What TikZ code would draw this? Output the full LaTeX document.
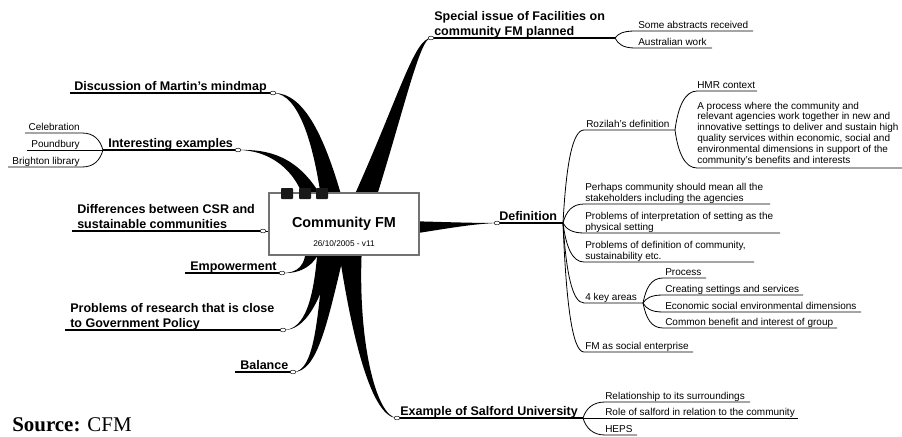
\documentclass[tikz,border=0pt]{standalone}
\usepackage{fontspec}
\setmainfont{Liberation Sans}
\newfontfamily\srcfont{Liberation Serif}
\usetikzlibrary{calc}
\tikzset{
  topic/.style={inner sep=0pt,anchor=base west,align=left,
    font=\fontsize{9.4}{11.25}\selectfont\bfseries},
  idea/.style={inner sep=0pt,anchor=base west,align=left,
    font=\fontsize{7.5}{8.1}\selectfont},
  lidea/.style={idea,anchor=base east},
  uline/.style={line width=1pt},
  sline/.style={line width=0.6pt},
  knob/.style={draw=black,fill=white,line width=0.35pt},
  sprout/.style={to path={.. controls ($(\tikztostart)!0.6!(\tikztostart|-\tikztotarget)+(#1*3,0)$)
    and ($(\tikztotarget)+(#1*-12,0)$) .. (\tikztotarget)}},
  sprout/.default=1
}
\begin{document}
\begin{tikzpicture}[x=0.75pt,y=-0.75pt]
  \useasboundingbox (0,0) rectangle (902,436);
  % knobs where the limbs end
  \coordinate (tD) at (273,93); \coordinate (tI) at (238,150); \coordinate (tS) at (431,38);
  \coordinate (tC) at (263,231); \coordinate (tE) at (282,273); \coordinate (tP) at (283,330);
  \coordinate (tB) at (293,372); \coordinate (tU) at (397,418); \coordinate (tF) at (497,223);
  % thick limbs
  \fill (tD) .. controls (300,93) and (315,150) .. (322,205) -- (344,205) .. controls (326,140) and (305,92) .. (tD) -- cycle;
  \fill (tI) .. controls (268,150) and (296,168) .. (306,205) -- (326,205) .. controls (302,158) and (272,149) .. (tI) -- cycle;
  \fill (tS) .. controls (414,38) and (398,100) .. (350,205) -- (374,205) .. controls (404,110) and (420,37) .. (tS) -- cycle;
  \fill (tF) .. controls (470,223) and (445,222) .. (405,221) -- (405,235) .. controls (445,229) and (470,224) .. (tF) -- cycle;
  \fill (tE) .. controls (298,273) and (306,266) .. (306,245) -- (322,245) .. controls (316,266) and (300,274) .. (tE) -- cycle;
  \fill (tP) .. controls (305,330) and (314,300) .. (318,245) -- (336,245) .. controls (322,300) and (306,331) .. (tP) -- cycle;
  \fill (tB) .. controls (316,372) and (318,310) .. (325,245) -- (346,245) .. controls (328,320) and (318,373) .. (tB) -- cycle;
  \fill (tU) .. controls (372,418) and (352,340) .. (338,245) -- (362,245) .. controls (357,340) and (376,417) .. (tU) -- cycle;
  % central topic
  \node[draw=black!55,line width=0.8pt,fill=white,minimum width=112.5pt,minimum height=46.5pt,inner sep=0pt] (hub) at (344,224) {};
  \foreach \sx in {281,299,316}
    \fill[black!90,rounded corners=0.6pt] (\sx,188) rectangle ++(12,11);
  \node[anchor=base,font=\fontsize{10.8}{13}\selectfont\bfseries] (ttl) at (344,227) {Community FM};
  \node[anchor=base,font=\fontsize{6.2}{7}\selectfont] (ver) at (344,246) {26/10/2005 - v11};

  % left side
  \coordinate (eD) at (70,93); \coordinate (fI) at (103,150);
  \coordinate (eCe) at (82,133); \coordinate (sCe) at (25,133); \coordinate (ePo) at (27,150);
  \coordinate (eBr) at (82,167); \coordinate (sBr) at (8,167);
  \coordinate (eC) at (72,231); \coordinate (eE) at (185,273);
  \coordinate (eP) at (65,330); \coordinate (eB) at (235,372);
  \node[topic] (nD) at (74,90) {Discussion of Martin's mindmap};
  \node[topic] (nI) at (108,147) {Interesting examples};
  \node[lidea] (nCe) at (80,130) {Celebration};
  \node[lidea] (nPo) at (80,147) {Poundbury};
  \node[lidea] (nBr) at (80,164) {Brighton library};
  \node[topic] (nC) at (77,228) {Differences between CSR and\\sustainable communities};
  \node[topic] (nE) at (190,270) {Empowerment};
  \node[topic] (nP) at (70,327) {Problems of research that is close\\to Government Policy};
  \node[topic] (nB) at (240,369) {Balance};
  \draw[uline] (eD) -- (tD);
  \draw[uline] (fI) -- (tI);
  \draw[sline] (fI) to[sprout=-1] (eCe) -- (sCe);
  \draw[sline] (fI) -- (ePo);
  \draw[sline] (fI) to[sprout=-1] (eBr) -- (sBr);
  \draw[uline] (eC) -- (tC);
  \draw[sline] (tC) -- (hub.west |- tC);
  \draw[uline] (eE) -- (tE);
  \draw[uline] (eP) -- (tP);
  \draw[uline] (eB) -- (tB);

  % special issue
  \coordinate (fS) at (615,38);
  \coordinate (sA1) at (635,31); \coordinate (eA1) at (753,31);
  \coordinate (sA2) at (635,48); \coordinate (eA2) at (712,48);
  \node[topic] (nS) at (434,35) {Special issue of Facilities on\\community FM planned};
  \node[idea] (nA1) at (638,28) {Some abstracts received};
  \node[idea] (nA2) at (638,45) {Australian work};
  \draw[uline] (tS) -- (fS);
  \draw[sline] (fS) to[sprout] (sA1) -- (eA1);
  \draw[sline] (fS) to[sprout] (sA2) -- (eA2);

  % definition
  \coordinate (fF) at (563,223);
  \coordinate (sR) at (584,130); \coordinate (fR) at (675,130);
  \coordinate (sH) at (697,91); \coordinate (eH) at (757,91);
  \coordinate (sQ) at (697,168); \coordinate (eQ) at (902,168);
  \coordinate (sK) at (584,204); \coordinate (eK) at (770,204);
  \coordinate (sT) at (584,233); \coordinate (eT) at (780,233);
  \coordinate (sN) at (584,262); \coordinate (eN) at (754,262);
  \coordinate (sY) at (584,303); \coordinate (fY) at (643,303);
  \coordinate (sY1) at (663,278); \coordinate (eY1) at (706,278);
  \coordinate (sY2) at (663,295); \coordinate (eY2) at (803,295);
  \coordinate (sY3) at (663,312); \coordinate (eY3) at (861,312);
  \coordinate (sY4) at (663,328); \coordinate (eY4) at (837,328);
  \coordinate (sM) at (584,352); \coordinate (eM) at (693,352);
  \node[topic] (nF) at (499,220) {Definition};
  \node[idea] (nR) at (586,127) {Rozilah's definition};
  \node[idea] (nH) at (697,88) {HMR context};
  \node[idea] (nQ) at (697,163) {A process where the community and\\relevant agencies work together in new and\\innovative settings to deliver and sustain high\\quality services within economic, social and\\environmental dimensions in support of the\\community's benefits and interests};
  \node[idea] (nK) at (585,201) {Perhaps community should mean all the\\stakeholders including the agencies};
  \node[idea] (nT) at (585,230) {Problems of interpretation of setting as the\\physical setting};
  \node[idea] (nN) at (585,259) {Problems of definition of community,\\sustainability etc.};
  \node[idea] (nY) at (585,300) {4 key areas};
  \node[idea] (nY1) at (665,275) {Process};
  \node[idea] (nY2) at (665,292) {Creating settings and services};
  \node[idea] (nY3) at (665,309) {Economic social environmental dimensions};
  \node[idea] (nY4) at (665,325) {Common benefit and interest of group};
  \node[idea] (nM) at (585,349) {FM as social enterprise};
  \draw[uline] (tF) -- (fF);
  \draw[sline] (fF) to[sprout] (sR) -- (fR);
  \draw[sline] (fR) to[sprout] (sH) -- (eH);
  \draw[sline] (fR) to[sprout] (sQ) -- (eQ);
  \draw[sline] (fF) to[sprout] (sK) -- (eK);
  \draw[sline] (fF) to[sprout] (sT) -- (eT);
  \draw[sline] (fF) to[sprout] (sN) -- (eN);
  \draw[sline] (fF) to[sprout] (sY) -- (fY);
  \foreach \k in {1,...,4}
    \draw[sline] (fY) to[sprout] (sY\k) -- (eY\k);
  \draw[sline] (fF) to[sprout] (sM) -- (eM);

  % salford
  \coordinate (fU) at (583,418);
  \coordinate (sU1) at (605,402); \coordinate (eU1) at (750,402);
  \coordinate (eU2) at (798,418);
  \coordinate (sU3) at (605,435); \coordinate (eU3) at (637,435);
  \node[topic] (nU) at (400,415) {Example of Salford University};
  \node[idea] (nU1) at (605,399) {Relationship to its surroundings};
  \node[idea] (nU2) at (605,415) {Role of salford in relation to the community};
  \node[idea] (nU3) at (605,432) {HEPS};
  \draw[uline] (tU) -- (fU);
  \draw[sline] (fU) to[sprout] (sU1) -- (eU1);
  \draw[sline] (fU) -- (eU2);
  \draw[sline] (fU) to[sprout] (sU3) -- (eU3);

  \foreach \t in {tD,tI,tS,tC,tE,tP,tB,tU,tF}
    \draw[knob] (\t) ellipse [x radius=2.2pt, y radius=1.4pt];

  \node[anchor=base west,inner sep=0pt,font=\srcfont\fontsize{15.7}{18}\selectfont] (src) at (12,431) {\textbf{Source:} CFM};
\end{tikzpicture}
\end{document}
